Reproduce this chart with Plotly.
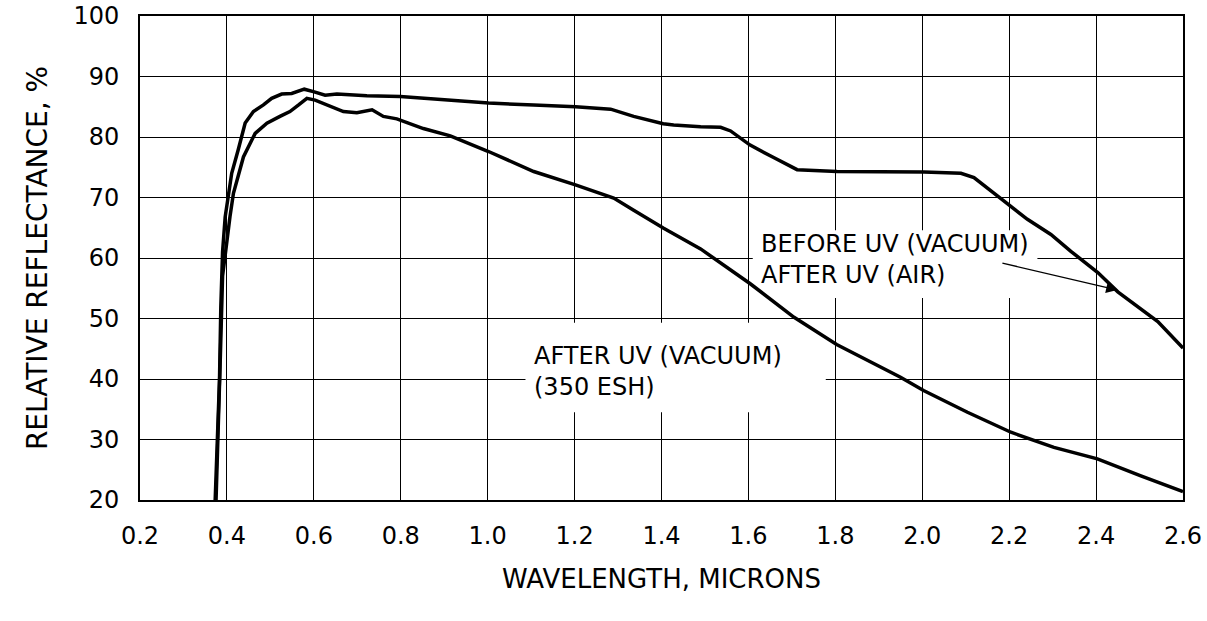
import plotly.graph_objects as go

# Reflectance before UV exposure in vacuum (same curve after UV in air)
wl_before = [0.373, 0.378, 0.383, 0.386, 0.390, 0.396, 0.404, 0.411, 0.426, 0.442,
             0.461, 0.484, 0.503, 0.526, 0.549, 0.578, 0.599, 0.626, 0.653, 0.722,
             0.799, 0.875, 1.002, 1.106, 1.202, 1.283, 1.336, 1.404, 1.428, 1.490,
             1.536, 1.559, 1.603, 1.658, 1.712, 1.804, 2.004, 2.089, 2.119, 2.181,
             2.242, 2.296, 2.342, 2.404, 2.450, 2.542, 2.572, 2.600]
refl_before = [20.0, 30.0, 40.0, 52.0, 61.0, 66.8, 70.5, 74.0, 77.9, 82.3,
               84.2, 85.3, 86.4, 87.1, 87.2, 87.9, 87.5, 86.9, 87.1, 86.8,
               86.7, 86.3, 85.6, 85.3, 85.0, 84.6, 83.4, 82.2, 82.0, 81.7,
               81.6, 81.0, 78.7, 76.6, 74.6, 74.3, 74.2, 74.0, 73.3, 69.8,
               66.4, 63.9, 61.1, 57.6, 54.4, 49.5, 47.3, 45.1]

# Reflectance after UV exposure in vacuum (350 ESH)
wl_after = [0.375, 0.380, 0.385, 0.390, 0.400, 0.407, 0.415, 0.438, 0.465, 0.492,
            0.522, 0.545, 0.565, 0.584, 0.603, 0.630, 0.668, 0.699, 0.734, 0.760,
            0.791, 0.852, 0.914, 1.002, 1.106, 1.202, 1.290, 1.336, 1.405, 1.490,
            1.605, 1.705, 1.803, 1.950, 2.003, 2.104, 2.204, 2.303, 2.403, 2.503,
            2.600]
refl_after = [20.0, 30.0, 44.0, 57.0, 63.5, 66.8, 70.7, 76.7, 80.6, 82.3,
              83.4, 84.2, 85.3, 86.4, 86.1, 85.3, 84.2, 84.0, 84.5, 83.4,
              83.0, 81.4, 80.2, 77.6, 74.3, 72.1, 69.9, 67.9, 64.9, 61.5,
              55.7, 50.2, 45.7, 40.3, 38.1, 34.5, 31.2, 28.7, 26.8, 24.0,
              21.4]

x_ticks = [0.2, 0.4, 0.6, 0.8, 1.0, 1.2, 1.4, 1.6, 1.8, 2.0, 2.2, 2.4, 2.6]
y_ticks = [20, 30, 40, 50, 60, 70, 80, 90, 100]

FONT = "DejaVu Sans"
INK = "black"

fig = go.Figure()
fig.add_trace(go.Scatter(x=wl_before, y=refl_before, mode="lines",
                         line=dict(color=INK, width=3.5), showlegend=False))
fig.add_trace(go.Scatter(x=wl_after, y=refl_after, mode="lines",
                         line=dict(color=INK, width=3.5), showlegend=False))

# White patches that clear the grid behind the curve labels
# (drawn above the grid but under the curves)
for x0, x1, y0, y1 in [(1.61, 2.265, 53.4, 64.6), (1.087, 1.778, 34.5, 49.3)]:
    fig.add_shape(type="rect", xref="x", yref="y", x0=x0, x1=x1, y0=y0, y1=y1,
                  fillcolor="white", line=dict(width=0), layer="between")

fig.add_annotation(x=1.625, y=59.8, xref="x", yref="y", xanchor="left", yanchor="middle",
                   text="BEFORE UV (VACUUM)<br>AFTER UV (AIR)", align="left",
                   showarrow=False,
                   font=dict(family=FONT, size=24, color=INK))
fig.add_annotation(x=1.103, y=41.2, xref="x", yref="y", xanchor="left", yanchor="middle",
                   text="AFTER UV (VACUUM)<br>(350 ESH)", align="left",
                   showarrow=False,
                   font=dict(family=FONT, size=24, color=INK))
# Leader arrow to the upper curve
fig.add_annotation(x=2.449, y=54.7, ax=2.181, ay=59.2,
                   xref="x", yref="y", axref="x", ayref="y",
                   text="", showarrow=True, arrowhead=2, arrowsize=1.6,
                   arrowwidth=1.4, arrowcolor=INK)

axis_common = dict(showgrid=True, gridcolor=INK, gridwidth=1.2,
                   showline=True, linecolor=INK, linewidth=2, mirror=True,
                   ticks="", zeroline=False, automargin=False,
                   tickfont=dict(family=FONT, size=24, color=INK))

fig.update_xaxes(range=[0.2, 2.6], tickvals=x_ticks, tickformat=".1f",
                 ticklabelstandoff=13,
                 title=dict(text="WAVELENGTH, MICRONS", standoff=21,
                            font=dict(family=FONT, size=26, color=INK)),
                 **axis_common)
fig.update_yaxes(range=[20, 100], tickvals=y_ticks,
                 ticklabelstandoff=14,
                 title=dict(text="RELATIVE REFLECTANCE, %", standoff=18,
                            font=dict(family=FONT, size=28, color=INK)),
                 **axis_common)

fig.update_layout(width=1207, height=621,
                  margin=dict(l=140, r=24, t=16, b=121),
                  paper_bgcolor="white", plot_bgcolor="white",
                  font=dict(family=FONT, color=INK))

fig.write_html("out.html")
